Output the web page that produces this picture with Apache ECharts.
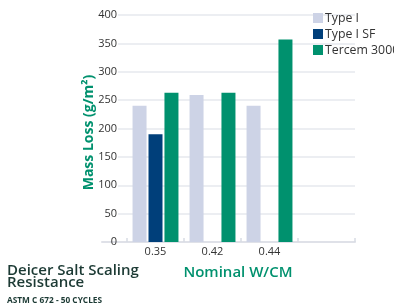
<!DOCTYPE html>
<html>
<head>
<meta charset="utf-8">
<script src="https://cdn.jsdelivr.net/npm/echarts@6/dist/echarts.min.js"></script>
<style>
  html, body { margin: 0; padding: 0; background: #fff; }
  #chart { width: 394px; height: 305px; }
</style>
</head>
<body>
<div id="chart"></div>
<script>
// data
const categories = ['0.35', '0.42', '0.44', '']
const typeI = [240, 259, 240, null]
const typeISF = [190, null, null, null]
const tercem = [263, 263, 357, null]
const seriesNames = ['Type I', 'Type I SF', 'Tercem 3000']

const green = '#00916e'
const font = "'Open Sans', sans-serif"

const chart = echarts.init(document.getElementById('chart'))

// three grids on the same box: axis line / grid lines + labels / bars
const box = { top: 15, bottom: 63, right: 39 }

chart.setOption({
    animation: false,
    textStyle: { fontFamily: font },
    title: {
        text: 'Deicer Salt Scaling\nResistance',
        subtext: 'ASTM C 672 - 50 CYCLES',
        left: 7,
        top: 265,
        padding: 0,
        itemGap: 5,
        textStyle: { fontSize: 15, fontWeight: 600, color: '#1c3a34', lineHeight: 12, fontFamily: font },
        subtextStyle: { fontSize: 8.3, fontWeight: 700, color: '#1c3a34', fontFamily: font }
    },
    legend: {
        orient: 'vertical',
        left: 308,
        top: 5,
        icon: 'rect',
        itemWidth: 10,
        itemHeight: 10,
        itemGap: 0,
        textStyle: { fontSize: 12.3, color: '#333', lineHeight: 16, padding: [0, 0, 0, -3] },
        data: seriesNames
    },
    grid: [
        Object.assign({ left: 102 }, box),
        Object.assign({ left: 118 }, box),
        Object.assign({ left: 127 }, box)
    ],
    xAxis: [
        {
            gridIndex: 0, type: 'value', min: 0, max: 1,
            axisLine: { show: true, lineStyle: { color: '#dfe1e8', width: 2 } },
            axisTick: { show: false }, axisLabel: { show: false }, splitLine: { show: false }
        },
        { gridIndex: 1, type: 'value', show: false },
        {
            gridIndex: 2, type: 'category', data: categories,
            axisLine: { show: false },
            axisTick: { show: true, inside: true, length: 4, lineStyle: { color: '#d8dbe3', width: 1.5 } },
            axisLabel: { fontSize: 11, color: '#333', margin: 4 },
            name: 'Nominal W/CM',
            nameLocation: 'middle',
            nameGap: 23,
            nameMoveOverlap: false,
            nameTextStyle: { fontSize: 15, fontWeight: 600, color: green, padding: [0, 6, 0, 0] }
        }
    ],
    yAxis: [
        { gridIndex: 0, type: 'value', min: 0, max: 400, show: false },
        {
            gridIndex: 1, type: 'value', min: 0, max: 400, interval: 50,
            axisLine: { show: false },
            axisTick: { show: false },
            axisLabel: { fontSize: 11, color: '#333', margin: 1, padding: [0, 0, 6, 0] },
            splitLine: { lineStyle: { color: '#e6e8ee', width: 1.5 } },
            name: 'Mass Loss (g/m²)',
            nameLocation: 'middle',
            nameGap: 22,
            nameMoveOverlap: false,
            nameTextStyle: { fontSize: 14, fontWeight: 700, color: green, padding: [0, 8, 0, 0] }
        },
        { gridIndex: 2, type: 'value', min: 0, max: 400, show: false }
    ],
    series: [
        { name: seriesNames[0], type: 'bar', xAxisIndex: 2, yAxisIndex: 2, data: typeI, barWidth: 14, barGap: '14%', itemStyle: { color: '#cdd3e6' } },
        { name: seriesNames[1], type: 'bar', xAxisIndex: 2, yAxisIndex: 2, data: typeISF, barWidth: 14, barGap: '14%', itemStyle: { color: '#003f7a' } },
        { name: seriesNames[2], type: 'bar', xAxisIndex: 2, yAxisIndex: 2, data: tercem, barWidth: 14, barGap: '14%', itemStyle: { color: green } }
    ]
})
</script>
</body>
</html>
